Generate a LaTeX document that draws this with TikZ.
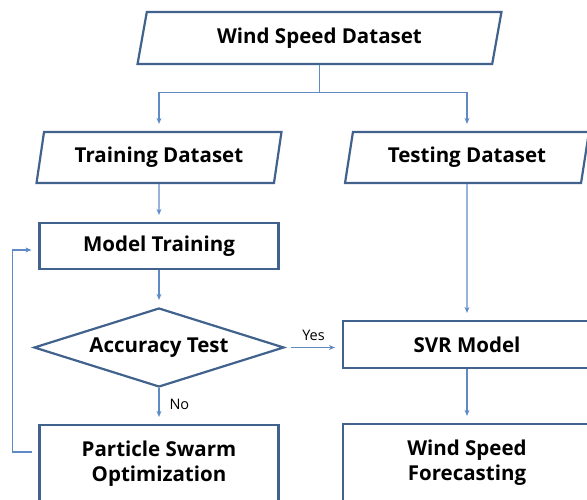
\documentclass[tikz,border=0pt]{standalone}
\usepackage{fontspec}
\setmainfont{Open Sans}
\usetikzlibrary{shapes.geometric,arrows.meta}
\definecolor{borderc}{RGB}{65,98,140}
\definecolor{connc}{RGB}{95,138,198}
\tikzset{
  box/.style={draw=borderc, line width=2.2pt, fill=white, inner sep=0pt, align=center,
    font=\fontsize{20.5}{25}\selectfont\bfseries},
  rbox/.style={box, rectangle},
  pbox/.style={box, trapezium, trapezium stretches=true, trapezium left angle=75, trapezium right angle=105},
  dbox/.style={box, diamond, shape aspect=3.16},
  arr/.style={draw=connc, line width=1.1pt, -{Stealth[length=6pt,width=5pt]}, shorten >=7pt},
  conn/.style={draw=connc, line width=1.1pt},
  lbl/.style={font=\fontsize{14.5}{17}\selectfont, inner sep=0pt, text=black}
}
\begin{document}
\begin{tikzpicture}[x=1pt,y=1pt]
\path[use as bounding box] (0,0) rectangle (587,500);
\clip (0,0) rectangle (587,500);
\node[pbox, minimum width=365pt, minimum height=52pt] (wsd) at (319.5,462) {Wind Speed Dataset};
\node[pbox, minimum width=245pt, minimum height=51pt] (train) at (159,342.5) {Training Dataset};
\node[pbox, minimum width=244pt, minimum height=51pt] (test) at (467,342.5) {Testing Dataset};
\node[rbox, minimum width=239pt, minimum height=46pt] (mt) at (159,254) {Model Training};
\node[dbox, minimum width=250pt, minimum height=79pt] (acc) at (159,152.5) {Accuracy Test};
\node[rbox, minimum width=248pt, minimum height=47pt] (svr) at (467,155.5) {SVR Model};
\node[rbox, minimum width=239pt, minimum height=77pt] (pso) at (159,36.5) {Particle Swarm\\Optimization};
\node[rbox, minimum width=248pt, minimum height=78pt] (wsf) at (467,37) {Wind Speed\\Forecasting};

\draw[conn] (wsd.south) -- ++(0,-27) coordinate (split);
\draw[arr] (split) -| (train.north);
\draw[arr] (split) -| (test.north);
\draw[arr] (train.south) -- (mt.north);
\draw[arr] (mt.south) -- (acc.north);
\draw[arr] (acc.south) -- node[lbl, right=10pt, pos=0.45] {No} (pso.north);
\draw[arr, shorten <=6pt] (acc.east) -- node[lbl, above=6pt] {Yes} (acc.east -| svr.west);
\draw[arr] (test.south) -- (svr.north);
\draw[arr] (svr.south) -- (wsf.north);
\draw[arr, shorten <=6pt] ([yshift=11.5pt]pso.west) -- ++(-26,0) |- ([yshift=-4pt]mt.west);
\end{tikzpicture}
\end{document}
